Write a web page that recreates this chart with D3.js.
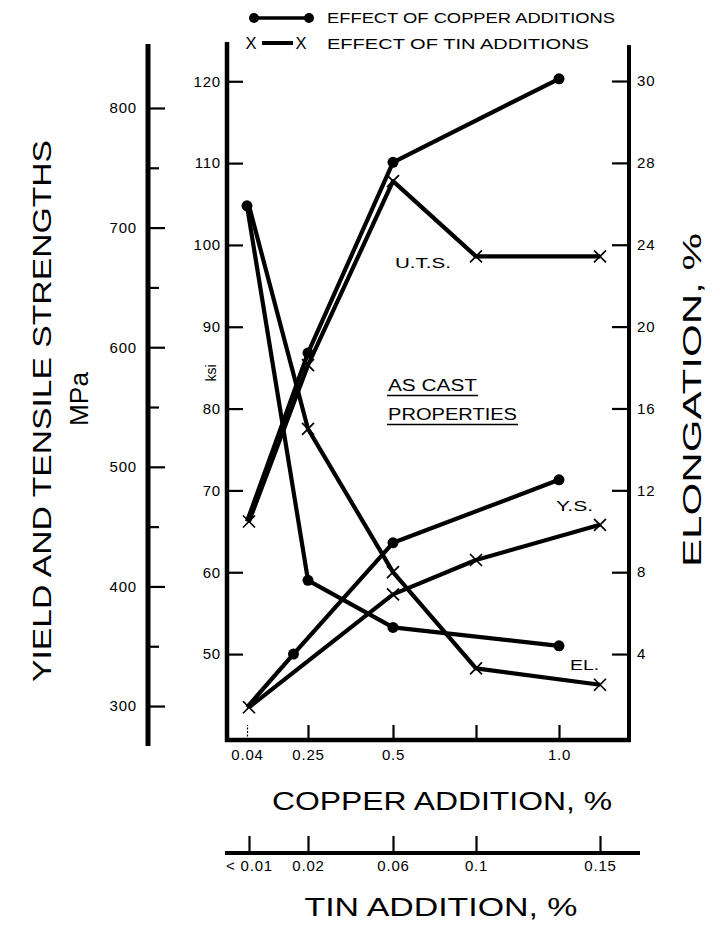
<!DOCTYPE html>
<html>
<head>
<meta charset="utf-8">
<script src="https://cdn.jsdelivr.net/npm/d3@7"></script>
<style>
  html, body { margin: 0; padding: 0; background: #fff; }
  svg { display: block; font-family: "Liberation Sans", Arial, Helvetica, sans-serif; }
</style>
</head>
<body>
<svg id="chart" width="720" height="929"></svg>
<script>
// ---- Data -------------------------------------------------------------
// Copper additions (wt %) and the as-cast properties measured at each
const copperUtsX = [0.04, 0.25, 0.5, 1.0];
const copperUtsKsi = [66.2, 86.8, 110.1, 120.3];
const copperYsX = [0.04, 0.2, 0.5, 1.0];
const copperYsKsi = [43.5, 50.0, 63.6, 71.3];
const copperElX = [0.04, 0.25, 0.5, 1.0];
const copperElPct = [25.9, 7.6, 5.3, 4.4];

// Tin additions (wt %) and the as-cast properties measured at each
const tinUtsX = [0.01, 0.02, 0.06, 0.1, 0.15];
const tinUtsKsi = [66.2, 85.3, 107.8, 98.6, 98.6];
const tinYsX = [0.01, 0.06, 0.1, 0.15];
const tinYsKsi = [43.5, 57.3, 61.5, 65.8];
const tinElX = [0.01, 0.02, 0.06, 0.1, 0.15];
const tinElPct = [25.9, 15.0, 8.0, 3.3, 2.5];

// Axis ticks and their labels
const ksiTicks = [50, 60, 70, 80, 90, 100, 110, 120];
const mpaTicks = [300, 400, 500, 600, 700, 800];
const mpaMinorTicks = [350, 450, 550, 650, 750];
const elTicks = [4, 8, 12, 16, 20, 24, 28, 32];
const elTickLabels = ["4", "8", "12", "16", "20", "24", "28", "30"];
const copperTicks = [0.04, 0.25, 0.5, 0.75, 1.0];
const copperTickLabels = ["0.04", "0.25", "0.5", "", "1.0"];
const tinTicks = [0.01, 0.02, 0.06, 0.1, 0.15];
const tinTickLabels = ["< 0.01", "0.02", "0.06", "0.1", "0.15"];

// ---- Layout -----------------------------------------------------------
const svg = d3.select("#chart");
const frame = { left: 227, right: 629, top: 42, bottom: 740 };
const mpaAxisX = 148;
const tinAxisY = 853;

// Scales
const yKsi = d3.scaleLinear().domain([39.5, 124.8]).range([frame.bottom, frame.top]);
const yMpa = d3.scaleLinear().domain([266.6, 853.5]).range([746, 44]);
const yEl = d3.scaleLinear().domain([-0.2, 33.76]).range([frame.bottom, 45]);
const xCu = d3.scaleLinear().domain(copperTicks).range([247, 308, 393, 476, 559]);
const xSn = d3.scaleLinear().domain(tinTicks).range([249, 308, 393, 476, 600]);

function styleAxis(g) {
  g.select(".domain").remove();
  g.selectAll(".tick line").attr("stroke", "#000").attr("stroke-width", 2.2);
  g.selectAll(".tick text").attr("fill", "#000")
    .style("font-size", "15px")
    .style("letter-spacing", "0.8px")
    .style("font-family", "'Liberation Sans', Arial, sans-serif");
}

// ---- ksi axis (left frame) ---------------------------------------------
svg.append("g")
  .attr("transform", `translate(${frame.left},0)`)
  .call(d3.axisLeft(yKsi).tickValues(ksiTicks).tickSize(-16).tickPadding(6).tickFormat(d3.format("d")))
  .call(styleAxis);

// ---- MPa axis ---------------------------------------------------------
svg.append("g")
  .attr("transform", `translate(${mpaAxisX},0)`)
  .call(d3.axisLeft(yMpa).tickValues(mpaTicks).tickSize(-17).tickPadding(11).tickFormat(d3.format("d")))
  .call(styleAxis);
svg.append("g")
  .attr("transform", `translate(${mpaAxisX},0)`)
  .call(d3.axisLeft(yMpa).tickValues(mpaMinorTicks).tickSize(-11).tickFormat(() => ""))
  .call(styleAxis);

// ---- Elongation axis (right frame) ------------------------------------
svg.append("g")
  .attr("transform", `translate(${frame.right},0)`)
  .call(d3.axisRight(yEl).tickValues(elTicks).tickSize(-17).tickPadding(8)
    .tickFormat((d, i) => elTickLabels[i]))
  .call(styleAxis);

// ---- Copper axis (bottom frame) ---------------------------------------
const cuAxis = svg.append("g")
  .attr("transform", `translate(0,${frame.bottom})`)
  .call(d3.axisBottom(xCu).tickValues(copperTicks).tickSize(-15).tickPadding(9)
    .tickFormat((d, i) => copperTickLabels[i]))
  .call(styleAxis);
cuAxis.selectAll(".tick line").filter((d, i) => i === 0).attr("stroke-width", 1.2).attr("stroke-dasharray", "2,1.5");

// ---- Tin axis ---------------------------------------------------------
svg.append("g")
  .attr("transform", `translate(0,${tinAxisY})`)
  .call(d3.axisBottom(xSn).tickValues(tinTicks).tickSize(-17).tickPadding(7)
    .tickFormat((d, i) => tinTickLabels[i]))
  .call(styleAxis);

// ---- Axis lines -------------------------------------------------------
const axisLines = [
  [frame.left, frame.top, frame.left, frame.bottom + 2, 4.5],
  [frame.right, 45, frame.right, frame.bottom + 2, 4],
  [frame.left - 2, frame.bottom, frame.right + 2, frame.bottom, 4.5],
  [mpaAxisX, 44, mpaAxisX, 746, 5],
  [225, tinAxisY, 640, tinAxisY, 4]
];
svg.append("g").selectAll("line").data(axisLines).join("line")
  .attr("x1", d => d[0]).attr("y1", d => d[1]).attr("x2", d => d[2]).attr("y2", d => d[3])
  .attr("stroke", "#000").attr("stroke-width", d => d[4]);

// ---- Curves -----------------------------------------------------------
const curves = [
  { xs: copperUtsX, ys: copperUtsKsi, x: xCu, y: yKsi, mark: "dot" },
  { xs: copperYsX, ys: copperYsKsi, x: xCu, y: yKsi, mark: "dot" },
  { xs: copperElX, ys: copperElPct, x: xCu, y: yEl, mark: "dot" },
  { xs: tinUtsX, ys: tinUtsKsi, x: xSn, y: yKsi, mark: "x" },
  { xs: tinYsX, ys: tinYsKsi, x: xSn, y: yKsi, mark: "x" },
  { xs: tinElX, ys: tinElPct, x: xSn, y: yEl, mark: "x" }
];

const lineGen = d3.line();
const plot = svg.append("g");
curves.forEach(c => {
  const pts = c.xs.map((v, i) => [c.x(v), c.y(c.ys[i])]);
  plot.append("path")
    .attr("d", lineGen(pts))
    .attr("fill", "none").attr("stroke", "#000")
    .attr("stroke-width", 4.2).attr("stroke-linejoin", "round");
  pts.forEach((p, i) => {
    if (c.mark === "dot") {
      // the shared base alloy point is drawn as a cross on the strength curves
      if (i === 0 && c.y === yKsi) return;
      plot.append("circle").attr("cx", p[0]).attr("cy", p[1]).attr("r", 5.5).attr("fill", "#000");
    } else {
      if (i === 0 && c.y === yEl) return;
      plot.append("path")
        .attr("transform", `translate(${p[0]},${p[1]})`)
        .attr("d", "M-6,-6L6,6M-6,6L6,-6")
        .attr("stroke", "#000").attr("stroke-width", 1.7).attr("fill", "none");
    }
  });
});

// ---- In-plot labels ---------------------------------------------------
function label(txt, x, y, size, width, opts = {}) {
  const t = svg.append("text").attr("x", x).attr("y", y)
    .attr("fill", "#000").style("font-size", size + "px").text(txt);
  if (width) t.attr("textLength", width).attr("lengthAdjust", "spacingAndGlyphs");
  if (opts.anchor) t.attr("text-anchor", opts.anchor);
  if (opts.rotate) t.attr("transform", `rotate(-90,${x},${y})`);
  return t;
}

label("U.T.S.", 395, 268, 15, 56);
label("AS CAST", 388, 391, 16, 89);
label("PROPERTIES", 388, 420, 16, 129);
svg.append("line").attr("x1", 387).attr("x2", 478).attr("y1", 395.5).attr("y2", 395.5).attr("stroke", "#000").attr("stroke-width", 1.6);
svg.append("line").attr("x1", 387).attr("x2", 518).attr("y1", 424.5).attr("y2", 424.5).attr("stroke", "#000").attr("stroke-width", 1.6);
label("Y.S.", 556, 511, 15, 37);
label("EL.", 570, 670, 15, 29);
label("ksi", 216, 373, 14, null, { anchor: "middle", rotate: true });

// ---- Axis titles ------------------------------------------------------
label("YIELD AND TENSILE STRENGTHS", 51, 411, 26, 542, { anchor: "middle", rotate: true });
label("MPa", 88, 399, 26, 54, { anchor: "middle", rotate: true });
label("ELONGATION, %", 701, 400, 26, 334, { anchor: "middle", rotate: true });
label("COPPER ADDITION, %", 442, 810, 26, 340, { anchor: "middle" });
label("TIN ADDITION, %", 441, 916, 26, 273, { anchor: "middle" });

// ---- Legend -----------------------------------------------------------
const legend = svg.append("g");
legend.append("line").attr("x1", 256).attr("x2", 307).attr("y1", 18).attr("y2", 18)
  .attr("stroke", "#000").attr("stroke-width", 3.5);
legend.append("circle").attr("cx", 254).attr("cy", 18).attr("r", 5).attr("fill", "#000");
legend.append("circle").attr("cx", 309).attr("cy", 18).attr("r", 5).attr("fill", "#000");
label("EFFECT OF COPPER ADDITIONS", 327, 23, 15, 288);

legend.append("line").attr("x1", 262).attr("x2", 293).attr("y1", 43).attr("y2", 43)
  .attr("stroke", "#000").attr("stroke-width", 4);
label("X", 251, 49, 17, 11, { anchor: "middle" });
label("X", 301, 49, 17, 11, { anchor: "middle" });
label("EFFECT OF TIN ADDITIONS", 327, 49, 15, 262);
</script>
</body>
</html>
